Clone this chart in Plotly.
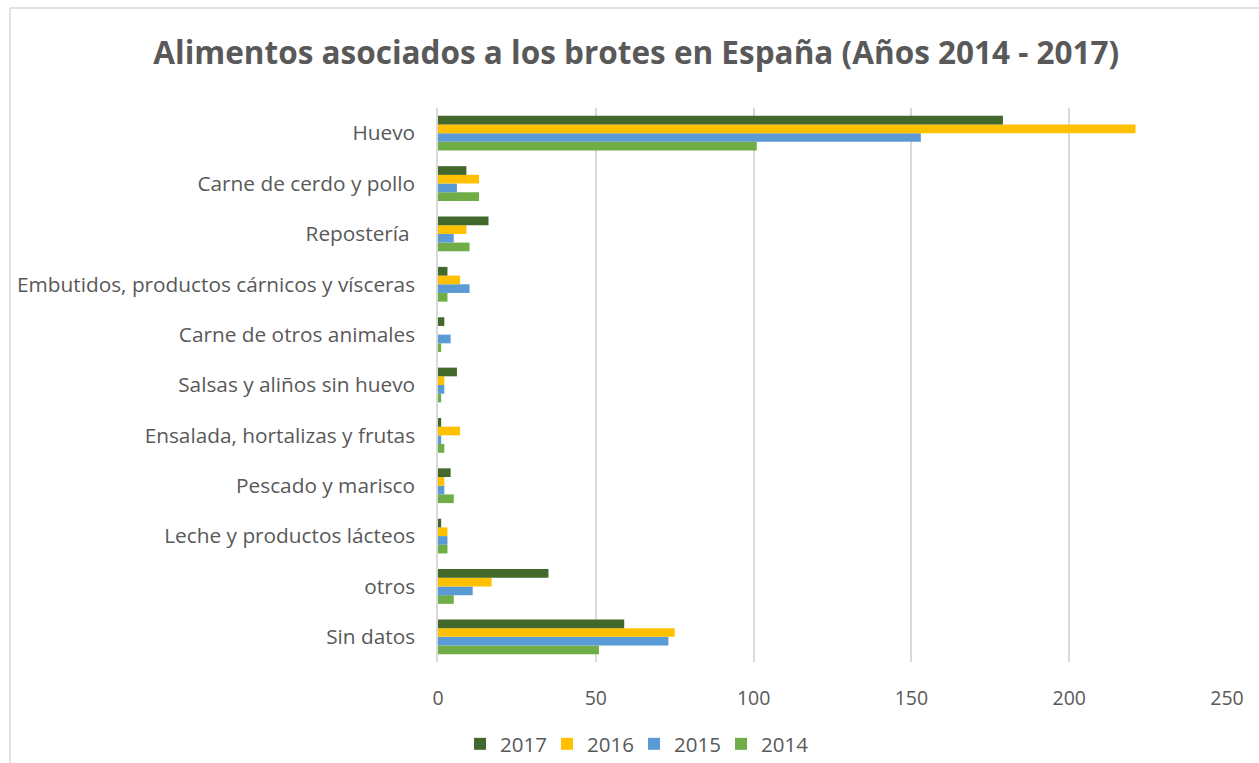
import plotly.graph_objects as go

# Food categories, listed top to bottom as shown on the chart
categories = [
    "Huevo",
    "Carne de cerdo y pollo",
    "Repostería\u00a0",
    "Embutidos, productos cárnicos y vísceras",
    "Carne de otros animales",
    "Salsas y aliños sin huevo",
    "Ensalada, hortalizas y frutas",
    "Pescado y marisco",
    "Leche y productos lácteos",
    "otros",
    "Sin datos",
]

# Number of outbreaks per category and year
brotes_2017 = [179, 9, 16, 3, 2, 6, 1, 4, 1, 35, 59]
brotes_2016 = [221, 13, 9, 7, 0, 2, 7, 2, 3, 17, 75]
brotes_2015 = [153, 6, 5, 10, 4, 2, 1, 2, 3, 11, 73]
brotes_2014 = [101, 13, 10, 3, 1, 1, 2, 5, 3, 5, 51]

x_ticks = [0, 50, 100, 150, 200, 250]

series = [
    ("2014", brotes_2014, "#70AD47"),
    ("2015", brotes_2015, "#5B9BD5"),
    ("2016", brotes_2016, "#FFC000"),
    ("2017", brotes_2017, "#43682B"),
]

FONT = "Open Sans"
GREY = "#595959"

fig = go.Figure()
for name, values, color in series:
    fig.add_trace(go.Bar(
        name=name,
        y=categories,
        x=values,
        orientation="h",
        marker=dict(color=color, line=dict(width=0)),
    ))

fig.update_layout(
    width=1259,
    height=763,
    barmode="group",
    bargap=0.31,
    bargroupgap=0,
    paper_bgcolor="white",
    plot_bgcolor="white",
    margin=dict(l=438, r=32, t=108, b=101, autoexpand=False),
    title=dict(
        text="<b>Alimentos asociados a los brotes en España (Años 2014 - 2017)</b>",
        x=0.5054, xanchor="center",
        y=0.930, yanchor="middle",
        font=dict(family=FONT, size=31.5, color=GREY),
    ),
    font=dict(family=FONT, color=GREY),
    legend=dict(
        orientation="h",
        traceorder="reversed",
        xref="container", yref="container",
        x=0.5036, xanchor="center",
        y=1 - 744 / 763, yanchor="middle",
        font=dict(family=FONT, size=20.5, color=GREY),
        itemwidth=30,
        entrywidth=42,
        entrywidthmode="pixels",
        bgcolor="rgba(0,0,0,0)",
    ),
    showlegend=True,
)

fig.update_xaxes(
    range=[0, 250],
    tickvals=x_ticks,
    showgrid=True,
    gridcolor="#D9D9D9",
    gridwidth=1.5,
    zeroline=False,
    showline=False,
    ticks="",
    automargin=False,
    ticklabelstandoff=22,
    tickfont=dict(family=FONT, size=19.5, color=GREY),
    fixedrange=True,
)

fig.update_yaxes(
    categoryorder="array",
    categoryarray=categories[::-1],
    showgrid=False,
    zeroline=False,
    showline=True,
    linecolor="#D9D9D9",
    linewidth=1.5,
    ticks="",
    automargin=False,
    ticklabelstandoff=17,
    tickfont=dict(family=FONT, size=20.8, color=GREY),
    fixedrange=True,
)

# Chart-area frame along the top and left edges
fig.add_shape(type="line", xref="paper", yref="paper",
              x0=(10 - 438) / 789, x1=(1259 - 438) / 789,
              y0=1 + 100 / 554, y1=1 + 100 / 554,
              line=dict(color="#D9D9D9", width=1.5))
fig.add_shape(type="line", xref="paper", yref="paper",
              x0=(10 - 438) / 789, x1=(10 - 438) / 789,
              y0=1 + 100 / 554, y1=-101 / 554,
              line=dict(color="#D9D9D9", width=1.5))

fig.write_html("out.html")
